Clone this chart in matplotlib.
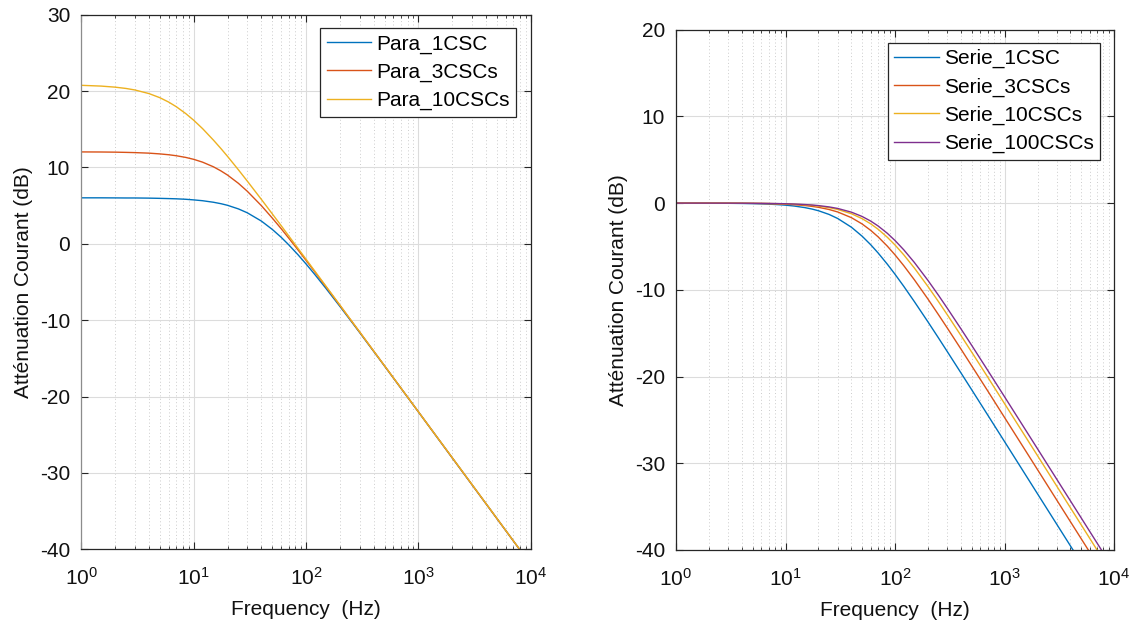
import matplotlib
matplotlib.use("Agg")
import matplotlib.pyplot as plt
from matplotlib.ticker import LogLocator, NullFormatter, MultipleLocator

plt.rcParams['font.family'] = ['Liberation Sans', 'DejaVu Sans']
plt.rcParams['mathtext.fontset'] = 'custom'
plt.rcParams['mathtext.rm'] = 'Liberation Sans'
plt.rcParams['mathtext.it'] = 'Liberation Sans:italic'
plt.rcParams['axes.unicode_minus'] = False

# frequencies (Hz) where the curves were read
freq = [1, 1.5, 2, 2.5, 3, 4, 5, 6, 7, 8.5, 10, 12, 15, 17.5, 20, 25, 30, 40, 50, 60, 70, 85,
        100, 120, 150, 200, 250, 300, 400, 500, 700, 1000, 2000, 5000, 10000]

# left panel (dB)
para_1csc = [6.02, 6.02, 6.01, 6.00, 6.00, 5.98, 5.95, 5.92, 5.89, 5.83, 5.75, 5.64, 5.44, 5.25,
             5.04, 4.57, 4.06, 2.98, 1.89, 0.86, -0.12, -1.45, -2.64, -4.04, -5.82, -8.19,
             -10.07, -11.62, -14.09, -16.01, -18.92, -22.01, -28.03, -35.98, -42.0]
para_3cscs = [12.03, 12.02, 12.00, 11.97, 11.94, 11.87, 11.77, 11.66, 11.53, 11.31, 11.06, 10.69,
              10.08, 9.54, 9.00, 7.92, 6.88, 5.00, 3.38, 1.99, 0.76, -0.82, -2.17, -3.70, -5.60,
              -8.06, -9.99, -11.56, -14.05, -15.99, -18.91, -22.00, -28.02, -35.98, -42.0]
para_10cscs = [20.75, 20.65, 20.51, 20.34, 20.14, 19.67, 19.13, 18.55, 17.95, 17.05, 16.18, 15.08,
               13.57, 12.46, 11.45, 9.69, 8.21, 5.82, 3.93, 2.38, 1.05, -0.62, -2.02, -3.60, -5.53,
               -8.02, -9.96, -11.54, -14.04, -15.98, -18.90, -22.0, -28.0, -35.96, -42.0]

# right panel (dB)
serie_1csc = [-0.002, -0.005, -0.010, -0.015, -0.022, -0.039, -0.061, -0.087, -0.118, -0.173,
              -0.237, -0.338, -0.517, -0.689, -0.880, -1.306, -1.777, -2.783, -3.809, -4.802,
              -5.742, -7.039, -8.205, -9.584, -11.35, -13.70, -15.57, -17.12, -19.58, -21.50,
              -24.41, -27.50, -33.52, -41.47, -47.5]
serie_3cscs = [-0.001, -0.003, -0.005, -0.008, -0.012, -0.020, -0.032, -0.046, -0.062, -0.092,
               -0.126, -0.181, -0.279, -0.376, -0.485, -0.737, -1.023, -1.680, -2.400, -3.145,
               -3.886, -4.960, -5.968, -7.202, -8.833, -11.07, -12.89, -14.40, -16.83, -18.74,
               -21.63, -24.72, -30.73, -38.68, -44.7]
serie_10cscs = [-0.001, -0.002, -0.004, -0.006, -0.008, -0.014, -0.022, -0.032, -0.043, -0.064,
                -0.088, -0.126, -0.195, -0.263, -0.341, -0.522, -0.731, -1.227, -1.790, -2.393,
                -3.010, -3.935, -4.830, -5.954, -7.476, -9.620, -11.38, -12.87, -15.27, -17.16,
                -20.04, -23.12, -29.12, -37.08, -43.1]
serie_100cscs = [-0.001, -0.002, -0.003, -0.005, -0.007, -0.012, -0.018, -0.027, -0.036, -0.053,
                 -0.073, -0.105, -0.163, -0.220, -0.286, -0.439, -0.617, -1.045, -1.538, -2.074,
                 -2.632, -3.479, -4.314, -5.376, -6.835, -8.921, -10.65, -12.12, -14.50, -16.38,
                 -19.26, -22.33, -28.33, -36.28, -42.3]

colors = ['#0072BD', '#D95319', '#EDB120', '#7E2F8E']
axcol = '#262626'

fig = plt.figure(figsize=(11.39, 6.30), dpi=100)
ax1 = fig.add_axes([0.0714, 0.1281, 0.3946, 0.8486])
ax2 = fig.add_axes([0.5935, 0.1270, 0.3846, 0.8259])


def style(ax, ylo, yhi):
    ax.set_xscale('log')
    ax.set_xlim(1, 1e4)
    ax.set_ylim(ylo, yhi)
    ax.yaxis.set_major_locator(MultipleLocator(10))
    ax.xaxis.set_major_locator(LogLocator(base=10, numticks=10))
    ax.xaxis.set_minor_locator(LogLocator(base=10, subs=range(2, 10), numticks=20))
    ax.xaxis.set_minor_formatter(NullFormatter())
    ax.grid(True, which='major', color='#dcdcdc', lw=0.8, ls='-')
    ax.grid(True, which='minor', axis='x', color='#cccccc', lw=0.7, ls=(0, (1, 2.5)))
    ax.set_axisbelow(True)
    for s in ax.spines.values():
        s.set_color(axcol)
        s.set_linewidth(0.9)
    ax.tick_params(which='both', direction='in', top=True, right=True, colors=axcol,
                   labelcolor='#111111', labelsize=15)
    ax.tick_params(which='major', length=5, width=0.8)
    ax.tick_params(which='minor', length=2.5, width=0.6)
    ax.tick_params(axis='x', pad=13)
    ax.tick_params(axis='y', pad=8)
    ax.set_xlabel('Frequency  (Hz)', fontsize=15, color='#111111', labelpad=8)
    ax.set_ylabel('Atténuation Courant (dB)', fontsize=15, color='#111111', labelpad=5)


style(ax1, -40, 30)
style(ax2, -40, 20)
ax1.spines['left'].set_color('#8c8c8c')

ax1.plot(freq, para_1csc, color=colors[0], lw=1.0, label='Para_1CSC')
ax1.plot(freq, para_3cscs, color=colors[1], lw=1.0, label='Para_3CSCs')
ax1.plot(freq, para_10cscs, color=colors[2], lw=1.0, label='Para_10CSCs')

ax2.plot(freq, serie_1csc, color=colors[0], lw=1.0, label='Serie_1CSC')
ax2.plot(freq, serie_3cscs, color=colors[1], lw=1.0, label='Serie_3CSCs')
ax2.plot(freq, serie_10cscs, color=colors[2], lw=1.0, label='Serie_10CSCs')
ax2.plot(freq, serie_100cscs, color=colors[3], lw=1.0, label='Serie_100CSCs')

for ax in (ax1, ax2):
    leg = ax.legend(loc='upper right', bbox_to_anchor=(0.968, 0.975), fontsize=15,
                    fancybox=False, framealpha=1, edgecolor=axcol, handlelength=2.15,
                    handletextpad=0.25, labelspacing=0.44, borderpad=0.3, borderaxespad=0)
    leg.get_frame().set_linewidth(0.9)

fig.savefig('out.png', dpi=100)
